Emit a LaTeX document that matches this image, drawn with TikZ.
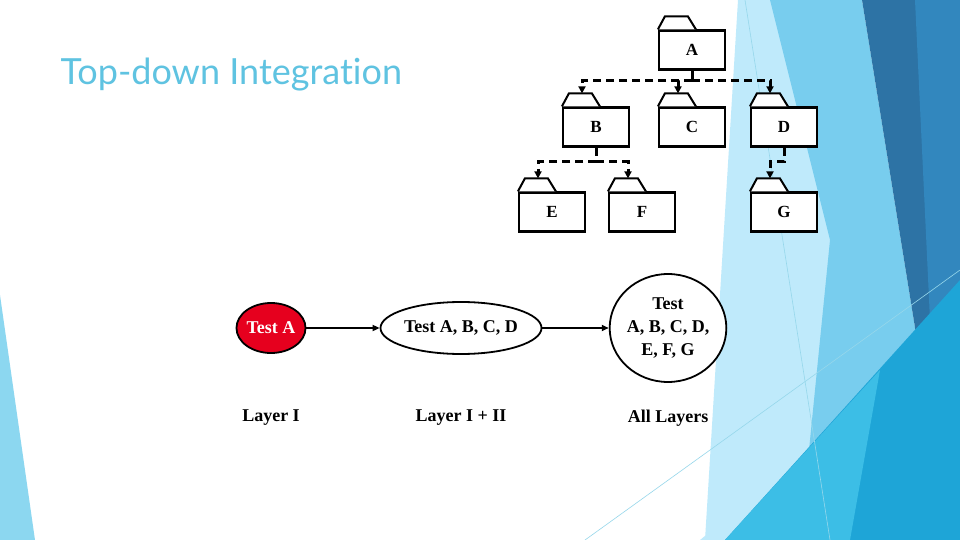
\documentclass[tikz,border=0pt]{standalone}
\usepackage{fontspec}
\setmainfont{Liberation Serif}
\newfontfamily\titlefont{Lato}[Ligatures=NoCommon]
\usetikzlibrary{arrows.meta,shapes.geometric}
\definecolor{titleblue}{RGB}{95,195,225}
\definecolor{testred}{RGB}{230,0,30}

\tikzset{
  module/.style={rectangle,draw,line width=2.2pt,minimum width=66pt,minimum height=39pt,
    font=\bfseries\fontsize{17}{19}\selectfont,fill=white},
  tab/.style={draw,line width=2pt,fill=white,line join=miter},
  calls/.style={line width=3pt,dash pattern=on 8pt off 5pt,
    -{Triangle[length=7pt,width=7pt]}},
  stage/.style={ellipse,draw,line width=1.8pt,inner sep=0pt,
    font=\bfseries\fontsize{18}{23}\selectfont,align=center},
  layer/.style={font=\bfseries\fontsize{18}{20}\selectfont}
}

\begin{document}
\begin{tikzpicture}[x=1pt,y=-1pt]
\useasboundingbox (0,0) rectangle (960,540);
% slide decoration
\fill[white] (0,0) rectangle (960,540);
\fill[cyan!25!white] (738,0) -- (800,0) -- (880,540) -- (705,540) -- cycle;
\fill[cyan!25!white] (700,540) -- (960,330) -- (960,540) -- cycle;
\fill[color={rgb,255:red,120;green,205;blue,238}] (770,0) -- (862,0) -- (917,340) -- (860,540) -- (800,540) -- (830,240) -- cycle;
\fill[color={rgb,255:red,45;green,115;blue,165}] (862,0) -- (960,0) -- (960,290) -- (917,340) -- cycle;
\fill[color={rgb,255:red,50;green,135;blue,190}] (915,0) -- (960,0) -- (960,290) -- (930,320) -- cycle;
\fill[color={rgb,255:red,30;green,165;blue,215}] (725,540) -- (960,280) -- (960,540) -- cycle;
\fill[color={rgb,255:red,60;green,190;blue,230}] (725,540) -- (880,370) -- (850,540) -- cycle;
\draw[color={rgb,255:red,150;green,215;blue,235},line width=0.6pt] (745,0) -- (830,540);
\draw[color={rgb,255:red,150;green,215;blue,235},line width=0.6pt] (585,540) -- (960,270);
\fill[color={rgb,255:red,140;green,215;blue,240}] (0,295) -- (35,540) -- (0,540) -- cycle;

\node[anchor=west,text=titleblue,font=\titlefont\fontsize{36}{40}\selectfont] (title) at (57,75) {Top-down Integration};

% module hierarchy
\node[module] (A) at (692,50) {A};
\node[module] (B) at (596,127) {B};
\node[module] (C) at (692,127) {C};
\node[module] (D) at (784,127) {D};
\node[module] (E) at (552,212) {E};
\node[module] (F) at (642,212) {F};
\node[module] (G) at (784,212) {G};
\foreach \m in {A,B,C,D,E,F,G}
  \draw[tab] (\m.north west) -- ++(7,-13) -- ++(23,0) -- ++(8,13);

\coordinate (ab) at (692,81);
\coordinate (be) at (596,162);
\coordinate (dg) at (784,162);
\draw[line width=3pt,dash pattern=on 8pt off 5pt] (A.south) -- (ab);
\draw[calls] (ab) -| ([xshift=-14pt,yshift=13pt]B.north);
\draw[calls] (ab) -| ([xshift=-14pt,yshift=13pt]C.north);
\draw[calls] (ab) -| ([xshift=-14pt,yshift=13pt]D.north);
\draw[line width=3pt,dash pattern=on 8pt off 5pt] (B.south) -- (be);
\draw[calls] (be) -| ([xshift=-14pt,yshift=13pt]E.north);
\draw[calls] (be) -| ([xshift=-14pt,yshift=13pt]F.north);
\draw[calls] (D.south) -- (dg) -| ([xshift=-14pt,yshift=13pt]G.north);

% test stages
\node[stage,fill=testred,text=white,minimum width=66pt,minimum height=50pt] (t1) at (271,328) {Test A};
\node[stage,fill=white,minimum width=142pt,minimum height=52pt] (t2) at (461,328) {Test A, B, C, D};
\node[stage,fill=white,minimum width=106pt,minimum height=108pt] (t3) at (668,328) {Test\\A, B, C, D,\\E, F, G};
\draw[line width=1.8pt,-{Triangle[length=7pt,width=6pt]}] (t1) -- (t2);
\draw[line width=1.8pt,-{Triangle[length=7pt,width=6pt]}] (t2) -- (t3);

\node[layer] (l1) at (271,418) {Layer I};
\node[layer] (l2) at (461,418) {Layer I + II};
\node[layer] (l3) at (668,418) {All Layers};
\end{tikzpicture}
\end{document}
